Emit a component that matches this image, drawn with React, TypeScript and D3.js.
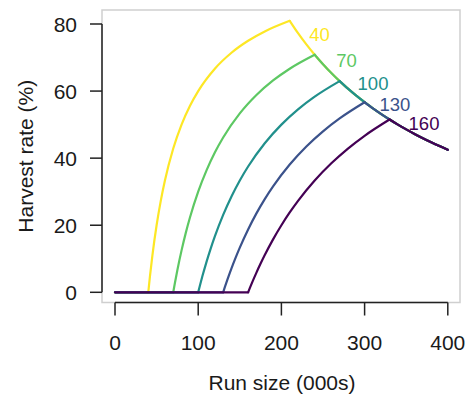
import React from "react";
import * as d3 from "d3";

// ---- Data ----
const escapementGoals = [40, 70, 100, 130, 160];
const seriesColors = ["#FDE725", "#5DC863", "#21908C", "#3B528B", "#440154"];

// run size above the escapement goal (000s) at which the rising rates were read
const riseOffsets = [0, 2, 5, 10, 15, 20, 30, 40, 50, 60, 80, 100, 120, 140, 170];
const riseRate40 = [0, 4.76, 11.11, 20, 27.27, 33.33, 42.86, 50, 55.56, 60, 66.67, 71.43, 75, 77.78, 80.95];
const riseRate70 = [0, 2.78, 6.67, 12.5, 17.65, 22.22, 30, 36.36, 41.67, 46.15, 53.33, 58.82, 63.16, 66.67, 70.83];
const riseRate100 = [0, 1.96, 4.76, 9.09, 13.04, 16.67, 23.08, 28.57, 33.33, 37.5, 44.44, 50, 54.55, 58.33, 62.96];
const riseRate130 = [0, 1.52, 3.7, 7.14, 10.34, 13.33, 18.75, 23.53, 27.78, 31.58, 38.1, 43.48, 48, 51.85, 56.67];
const riseRate160 = [0, 1.23, 3.03, 5.88, 8.57, 11.11, 15.79, 20, 23.81, 27.27, 33.33, 38.46, 42.86, 46.67, 51.52];
const riseRates = [riseRate40, riseRate70, riseRate100, riseRate130, riseRate160];

// shared declining limb (capacity-limited)
const declineRunSize = [210, 220, 230, 240, 250, 260, 270, 280, 290, 300, 310, 320, 330, 340, 350, 360, 370, 380, 390, 400];
const declineRate = [80.95, 77.27, 73.91, 70.83, 68, 65.38, 62.96, 60.71, 58.62, 56.67, 54.84, 53.13, 51.52, 50, 48.57, 47.22, 45.95, 44.74, 43.59, 42.5];

// curve labels (data coordinates of label centres)
const labelText = ["40", "70", "100", "130", "160"];
const labelRunSize = [245.8, 278.3, 310.1, 336.5, 371.4];
const labelRate = [76.9, 69.2, 62.2, 56.0, 50.5];

const xTicks = [0, 100, 200, 300, 400];
const yTicks = [0, 20, 40, 60, 80];

type Pt = [number, number];

export default function App() {
  const W = 468;
  const H = 394;
  const x = d3.scaleLinear().domain([0, 400]).range([115, 447.8]);
  const y = d3.scaleLinear().domain([0, 80]).range([292.3, 24]);
  const box = { left: 102, right: 460, top: 10, bottom: 302.5 };
  const font = "'Liberation Sans', Arial, Helvetica, sans-serif";

  const linear = d3.line<Pt>().x((d) => x(d[0])).y((d) => y(d[1]));
  const smooth = d3
    .line<Pt>()
    .x((d) => x(d[0]))
    .y((d) => y(d[1]))
    .curve(d3.curveMonotoneX);

  const series = escapementGoals.map((goal, i) => {
    const flat: Pt[] = [
      [0, 0],
      [goal, 0],
    ];
    const rise: Pt[] = riseOffsets.map((o, j) => [goal + o, riseRates[i][j]]);
    const peak = rise[rise.length - 1][0];
    const fall: Pt[] = declineRunSize
      .map((r, j) => [r, declineRate[j]] as Pt)
      .filter((d) => d[0] >= peak);
    return { goal, color: seriesColors[i], flat, rise, fall };
  });

  return (
    <svg
      width={W}
      height={H}
      style={{ position: "absolute", left: 0, top: 0, background: "#fff" }}
      fontFamily={font}
    >
      <rect x={0} y={0} width={W} height={H} fill="#fff" />
      {/* light plot-region box */}
      <rect
        x={box.left}
        y={box.top}
        width={box.right - box.left}
        height={box.bottom - box.top}
        fill="none"
        stroke="#cfcfcf"
        strokeWidth={1.5}
      />

      {/* series */}
      {series.map((s) => (
        <g
          key={s.goal}
          fill="none"
          stroke={s.color}
          strokeWidth={2.2}
          strokeLinecap="round"
          strokeLinejoin="round"
        >
          <path d={linear(s.flat) || ""} />
          <path d={smooth(s.rise) || ""} />
          <path d={smooth(s.fall) || ""} />
        </g>
      ))}

      {/* curve labels */}
      {labelText.map((t, i) => (
        <text
          key={t}
          x={x(labelRunSize[i])}
          y={y(labelRate[i])}
          dy="0.36em"
          textAnchor="middle"
          fontSize={18.5}
          fill={seriesColors[i]}
        >
          {t}
        </text>
      ))}

      {/* y axis */}
      <g stroke="#222" strokeWidth={1.5} fill="none">
        <line x1={box.left} x2={box.left} y1={y(80)} y2={y(0)} />
        {yTicks.map((t) => (
          <line key={t} x1={box.left - 12} x2={box.left} y1={y(t)} y2={y(t)} />
        ))}
      </g>
      {yTicks.map((t) => (
        <text
          key={t}
          x={77}
          y={y(t)}
          dy="0.36em"
          textAnchor="end"
          fontSize={21}
          fill="#1a1a1a"
        >
          {t}
        </text>
      ))}

      {/* x axis */}
      <g stroke="#222" strokeWidth={1.5} fill="none">
        <line x1={x(0)} x2={x(400)} y1={box.bottom} y2={box.bottom} />
        {xTicks.map((t) => (
          <line key={t} x1={x(t)} x2={x(t)} y1={box.bottom} y2={box.bottom + 13} />
        ))}
      </g>
      {xTicks.map((t) => (
        <text key={t} x={x(t)} y={350} textAnchor="middle" fontSize={21} fill="#1a1a1a">
          {t}
        </text>
      ))}

      {/* axis titles */}
      <text x={(box.left + box.right) / 2 + 1} y={390} textAnchor="middle" fontSize={21} fill="#1a1a1a">
        Run size (000s)
      </text>
      <text
        transform={`translate(33, ${(box.top + box.bottom) / 2}) rotate(-90)`}
        textAnchor="middle"
        fontSize={21}
        fill="#1a1a1a"
      >
        Harvest rate (%)
      </text>
    </svg>
  );
}
